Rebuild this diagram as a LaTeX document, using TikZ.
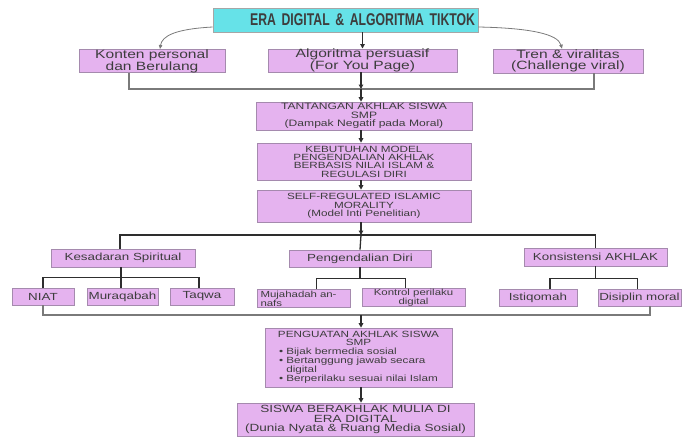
\documentclass[tikz,border=0pt]{standalone}
\usepackage{fontspec}
\setmainfont{Liberation Sans}[FakeStretch=1.3]
\newfontfamily\titlefont{Liberation Sans}[FakeStretch=0.72]
\usetikzlibrary{arrows.meta}
\definecolor{boxfill}{HTML}{E5B3EF}
\definecolor{boxedge}{HTML}{A58AAE}
\definecolor{titlefill}{HTML}{66E2E8}
\definecolor{textgray}{HTML}{3D3D3D}
\definecolor{linedark}{HTML}{2E2E2E}
\definecolor{linegray}{HTML}{7A7A7A}
\newcommand{\fsz}[2]{\fontsize{#1}{#2}\selectfont}

\begin{document}
\begin{tikzpicture}[x=1pt, y=-1pt,
	box/.style={draw=boxedge, fill=boxfill, line width=0.6pt, inner sep=0pt, align=center, text=textgray},
	titlebox/.style={box, fill=titlefill, draw=gray!70},
	lnk/.style={draw=linedark, line width=1.3pt},
	lnklight/.style={draw=linegray, line width=1.1pt},
	arr/.style={lnk, -{Triangle[length=4.5pt,width=4.5pt]}},
	curvearr/.style={draw=linegray, line width=0.8pt, -{Triangle[length=4pt,width=3.5pt]}}]
	
	\useasboundingbox (0,0) rectangle (683,440);
	
	% top level
	\node [titlebox, minimum width=265pt, minimum height=24pt, text width=259pt, align=right, font=\titlefont\bfseries\fsz{17}{17}] (era) at (345.5,20) {ERA DIGITAL \& ALGORITMA TIKTOK};
	
	\node [box, minimum width=146pt, minimum height=23pt, font=\fsz{12}{10.3}] (konten) at (152,61) {Konten personal\\dan Berulang};
	\node [box, minimum width=189pt, minimum height=23pt, font=\fsz{12}{10.3}] (algo) at (362.5,60.5) {Algoritma persuasif\\(For You Page)};
	\node [box, minimum width=150pt, minimum height=24pt, font=\fsz{12}{11.2}] (tren) at (568,61) {Tren \& viralitas\\(Challenge viral)};
	
	% main column
	\node [box, minimum width=216pt, minimum height=28pt, font=\fsz{9.3}{8.4}] (tantangan) at (364,116) {TANTANGAN AKHLAK SISWA\\SMP\\(Dampak Negatif pada Moral)};
	\node [box, minimum width=214pt, minimum height=37pt, font=\fsz{9}{8.4}] (kebutuhan) at (364,161.5) {KEBUTUHAN MODEL\\PENGENDALIAN AKHLAK\\BERBASIS NILAI ISLAM \&\\REGULASI DIRI};
	\node [box, minimum width=214pt, minimum height=32pt, font=\fsz{9}{8.4}] (selfreg) at (364,206) {SELF-REGULATED ISLAMIC\\MORALITY\\(Model Inti Penelitian)};
	
	% three components
	\node [box, minimum width=144pt, minimum height=18pt, font=\fsz{10.3}{10}] (kesadaran) at (123,258) {Kesadaran Spiritual};
	\node [box, minimum width=142pt, minimum height=17pt, font=\fsz{10.3}{10}] (pengendalian) at (360,258.5) {Pengendalian Diri};
	\node [box, minimum width=143pt, minimum height=18pt, font=\fsz{10.3}{10}] (konsistensi) at (595.5,257) {Konsistensi AKHLAK};
	
	% indicators
	\node [box, minimum width=62pt, minimum height=17pt, font=\fsz{10.3}{10}] (niat) at (43,296.5) {NIAT};
	\node [box, minimum width=71pt, minimum height=17pt, font=\fsz{10.3}{10}] (muraqabah) at (122.5,296.5) {Muraqabah};
	\node [box, minimum width=64pt, minimum height=17pt, font=\fsz{10.3}{10}] (taqwa) at (202,296.5) {Taqwa};
	\node [box, minimum width=93pt, minimum height=18pt, text width=86pt, align=left, font=\fsz{8.8}{7.6}] (mujahadah) at (303.5,298.5) {Mujahadah an-\\nafs};
	\node [box, minimum width=103pt, minimum height=18pt, font=\fsz{8.8}{7.6}] (kontrol) at (413.5,297.5) {Kontrol perilaku\\digital};
	\node [box, minimum width=78pt, minimum height=17pt, font=\fsz{10.3}{10}] (istiqomah) at (538,297.5) {Istiqomah};
	\node [box, minimum width=83pt, minimum height=17pt, font=\fsz{10.3}{10}] (disiplin) at (639.5,297.5) {Disiplin moral};
	
	% outcome
	\node [box, minimum width=187pt, minimum height=59pt, font=\fsz{9}{8}] (penguatan) at (358.5,357.5) {PENGUATAN AKHLAK SISWA\\SMP\\[2pt]
		\begin{tabular}{@{}c@{\hspace{3pt}}l@{}}
			\textbullet & Bijak bermedia sosial\\
			\textbullet & Bertanggung jawab secara\\
			& digital\\
			\textbullet & Berperilaku sesuai nilai Islam
		\end{tabular}};
	\node [box, minimum width=237pt, minimum height=33pt, font=\fsz{10.4}{9.2}] (siswa) at (355.5,419.5) {SISWA BERAKHLAK MULIA DI\\ERA DIGITAL\\(Dunia Nyata \& Ruang Media Sosial)};
	
	% junctions
	\coordinate (j1) at (361,89);
	\coordinate (j2) at (361,235);
	\coordinate (j3) at (361,315);
	
	\draw [curvearr] ([yshift=-7pt]era.west) .. controls (175,29) and (162,36) .. ([xshift=8pt]konten.north);
	\draw [curvearr] ([yshift=-7pt]era.east) .. controls (530,28) and (558,34) .. ([xshift=-6pt]tren.north);
	\draw [arr] (era.south -| algo) -- (algo.north);
	
	\draw [lnklight] ([xshift=-23pt]konten.south) |- (j1) -| ([xshift=26pt]tren.south);
	\draw [arr] (algo.south -| j1) -- (j1);
	\draw [arr] (j1) -- (j1 |- tantangan.north);
	\draw [arr] (tantangan.south -| j1) -- (j1 |- kebutuhan.north);
	\draw [arr] (kebutuhan.south -| j1) -- (j1 |- selfreg.north);
	\draw [arr] (selfreg.south -| j2) -- (j2);
	
	\draw [lnk] ([xshift=-3pt]kesadaran.north) |- (j2) -| (konsistensi.north);
	\draw [lnk] (j2) -- (pengendalian.north);
	
	\draw [lnk] ([xshift=-2pt]kesadaran.south) -- ++(0,10) coordinate (ks);
	\draw [lnk] (niat.north) |- (ks) -| ([xshift=-3pt]taqwa.north);
	\draw [lnk] (ks) -- (ks |- muraqabah.north);
	
	\draw [lnk] (pengendalian.south) -- ++(0,11) coordinate (ps);
	\draw [lnk] ([xshift=13pt]mujahadah.north) |- (ps) -| ([xshift=-8pt]kontrol.north);
	
	\draw [lnk] (konsistensi.south) -- ++(0,12) coordinate (cs);
	\draw [lnk] ([xshift=12pt]istiqomah.north) |- (cs) -| ([xshift=-2pt]disiplin.north);
	
	\draw [lnklight] (niat.south) |- (j3) -| ([xshift=10.5pt]disiplin.south);
	\draw [arr] (j3) -- (j3 |- penguatan.north);
	\draw [arr] (penguatan.south -| j3) -- (j3 |- siswa.north);
	
\end{tikzpicture}
\end{document}
